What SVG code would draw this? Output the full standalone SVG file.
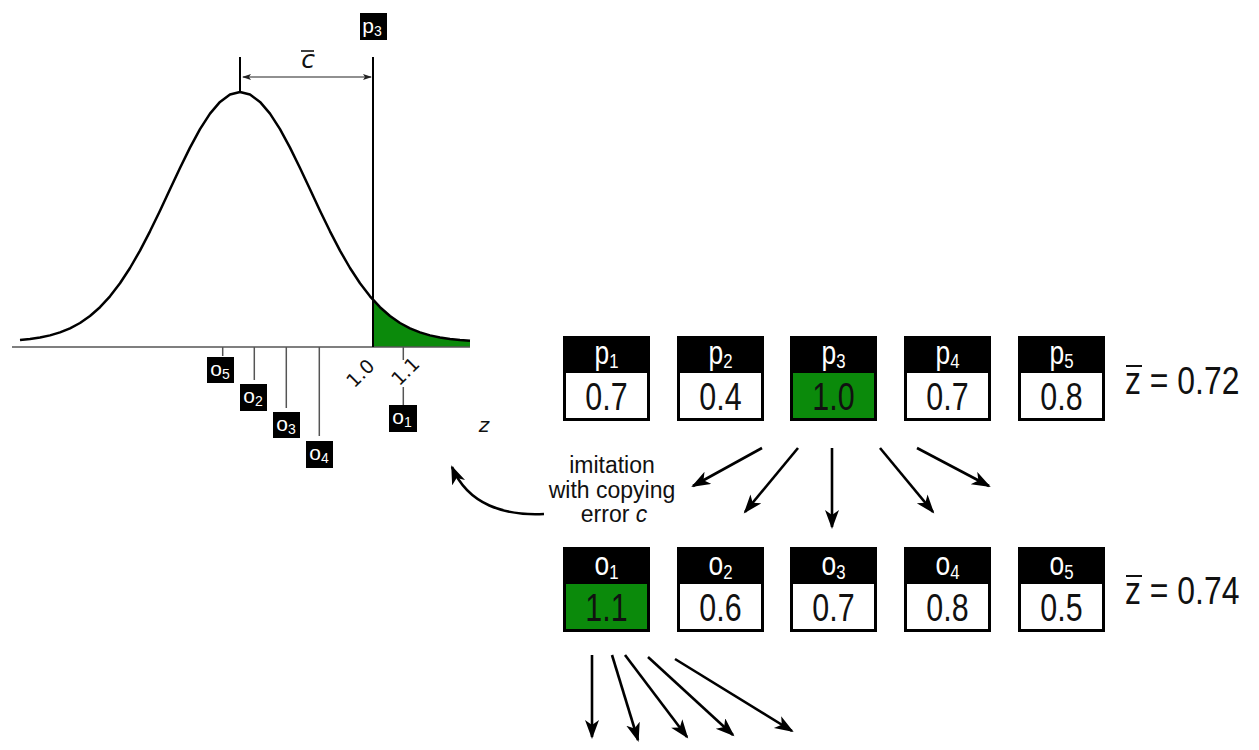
<svg xmlns="http://www.w3.org/2000/svg" width="1259" height="750" viewBox="0 0 1259 750">
<style>
.lab{font-family:"Liberation Sans",Arial,sans-serif;fill:#fff;text-anchor:middle}
.val{font-family:"Liberation Sans",Arial,sans-serif;fill:#111;text-anchor:middle;font-size:38px}
.hdr{font-size:33px}
.sub{font-size:21px}
.blk{fill:#000}
.wht{fill:#fff}
.grn{fill:#0b8a0b}
.arr{stroke:#000;stroke-width:2.6;fill:none;marker-end:url(#ah)}
.tick{stroke:#555;stroke-width:1.5}
.dv{font-family:"DejaVu Sans",sans-serif;fill:#111}
.mean{font-family:"Liberation Sans",Arial,sans-serif;fill:#111;font-size:38px}
</style>
<defs>
<marker id="ah" markerUnits="userSpaceOnUse" markerWidth="20" markerHeight="16" refX="17" refY="7" orient="auto">
<path d="M0,0 L19,7 L0,14 L5,7 z" fill="#000"/>
</marker>
<marker id="sm" markerUnits="userSpaceOnUse" markerWidth="10" markerHeight="8" refX="8" refY="3" orient="auto-start-reverse">
<path d="M0,0 L9,3 L0,6 L2,3 z" fill="#222"/>
</marker>
</defs>
<rect width="1259" height="750" fill="#fff"/>

<g id="chart">
<path class="grn" d="M373,299.8 L380,307.2 L390,316 L400,323 L410,328.3 L420,332.4 L430,335.4 L440,337.5 L450,339 L460,340.1 L470,340.8 L470,347 L373,347 Z"/>
<line x1="12" y1="347" x2="470" y2="347" stroke="#555" stroke-width="1.6"/>
<path d="M20,340.1 L30,339 L40,337.5 L50,335.4 L60,332.4 L70,328.3 L80,323 L90,316 L100,307.2 L110,296.3 L120,283.3 L130,268 L140,250.6 L150,231.3 L160,210.7 L170,189.3 L180,168 L190,147.6 L200,129.2 L210,113.6 L220,101.9 L230,94.5 L240,92 L250,94.5 L260,101.9 L270,113.6 L280,129.2 L290,147.6 L300,168 L310,189.3 L320,210.7 L330,231.3 L340,250.6 L350,268 L360,283.3 L370,296.3 L380,307.2 L390,316 L400,323 L410,328.3 L420,332.4 L430,335.4 L440,337.5 L450,339 L460,340.1 L470,340.8" fill="none" stroke="#000" stroke-width="2.5" stroke-linejoin="round"/>
<line x1="240" y1="57" x2="240" y2="92" stroke="#000" stroke-width="2"/>
<line x1="373" y1="57" x2="373" y2="347" stroke="#000" stroke-width="2"/>
<line x1="243" y1="77" x2="371" y2="77" stroke="#222" stroke-width="1.2" marker-start="url(#sm)" marker-end="url(#sm)"/>
<text class="dv" x="308" y="68" font-size="25" font-style="italic" text-anchor="middle">c</text>
<line x1="301" y1="51" x2="314" y2="51" stroke="#111" stroke-width="1.6"/>
<g id="lbl-p3top"><rect class="blk" x="360" y="13" width="27" height="27"/><text class="lab" x="372" y="33" font-size="21">p<tspan font-size="14" dy="3">3</tspan></text></g>
<line class="tick" x1="222.7" y1="347" x2="222.7" y2="356"/>
<line class="tick" x1="254.3" y1="347" x2="254.3" y2="380"/>
<line class="tick" x1="286.3" y1="347" x2="286.3" y2="408"/>
<line class="tick" x1="319.3" y1="347" x2="319.3" y2="436"/>
<line class="tick" x1="403.3" y1="347" x2="403.3" y2="360"/>
<line class="tick" x1="403.3" y1="387" x2="403.3" y2="405"/>
<g id="lbl-o5"><rect class="blk" x="207" y="357" width="27" height="26"/><text class="lab" x="220" y="376" font-size="21">o<tspan font-size="14" dy="3">5</tspan></text></g>
<g id="lbl-o2"><rect class="blk" x="240" y="384" width="27" height="27"/><text class="lab" x="253" y="403" font-size="21">o<tspan font-size="14" dy="3">2</tspan></text></g>
<g id="lbl-o3"><rect class="blk" x="273" y="412" width="27" height="26"/><text class="lab" x="286" y="431" font-size="21">o<tspan font-size="14" dy="3">3</tspan></text></g>
<g id="lbl-o4"><rect class="blk" x="306" y="441" width="27" height="27"/><text class="lab" x="319" y="460" font-size="21">o<tspan font-size="14" dy="3">4</tspan></text></g>
<g id="lbl-o1"><rect class="blk" x="389" y="405" width="28" height="27"/><text class="lab" x="402" y="424" font-size="21">o<tspan font-size="14" dy="3">1</tspan></text></g>
<text class="dv" font-size="19" text-anchor="middle" transform="translate(365,378) rotate(-45)">1.0</text>
<text class="dv" font-size="19" text-anchor="middle" transform="translate(410,376) rotate(-45)">1.1</text>
<text class="dv" x="484" y="432" font-size="20" font-style="italic" text-anchor="middle">z</text>
</g>

<g id="p1"><rect class="blk" x="563" y="336" width="87" height="85"/><rect class="wht" x="566" y="373" width="81" height="45"/><text class="lab hdr" transform="translate(606.5,364) scale(0.8,1)">p<tspan class="sub" dy="4">1</tspan></text><text class="val" transform="translate(606.5,410) scale(0.8,1)">0.7</text></g>
<g id="p2"><rect class="blk" x="677" y="336" width="87" height="85"/><rect class="wht" x="680" y="373" width="81" height="45"/><text class="lab hdr" transform="translate(720.5,364) scale(0.8,1)">p<tspan class="sub" dy="4">2</tspan></text><text class="val" transform="translate(720.5,410) scale(0.8,1)">0.4</text></g>
<g id="p3"><rect class="blk" x="790" y="336" width="87" height="85"/><rect class="grn" x="793" y="373" width="81" height="45"/><text class="lab hdr" transform="translate(833.5,364) scale(0.8,1)">p<tspan class="sub" dy="4">3</tspan></text><text class="val" transform="translate(833.5,410) scale(0.8,1)">1.0</text></g>
<g id="p4"><rect class="blk" x="904" y="336" width="87" height="85"/><rect class="wht" x="907" y="373" width="81" height="45"/><text class="lab hdr" transform="translate(947.5,364) scale(0.8,1)">p<tspan class="sub" dy="4">4</tspan></text><text class="val" transform="translate(947.5,410) scale(0.8,1)">0.7</text></g>
<g id="p5"><rect class="blk" x="1018" y="336" width="87" height="85"/><rect class="wht" x="1021" y="373" width="81" height="45"/><text class="lab hdr" transform="translate(1061.5,364) scale(0.8,1)">p<tspan class="sub" dy="4">5</tspan></text><text class="val" transform="translate(1061.5,410) scale(0.8,1)">0.8</text></g>
<g id="zbar-p"><text class="mean" transform="translate(1125,394) scale(0.84,1)">z = 0.72</text><line x1="1126" y1="366" x2="1142" y2="366" stroke="#111" stroke-width="2"/></g>

<g id="o1"><rect class="blk" x="563" y="547" width="87" height="85"/><rect class="grn" x="566" y="584" width="81" height="45"/><text class="lab hdr" transform="translate(606.5,575) scale(0.8,1)">o<tspan class="sub" dy="4">1</tspan></text><text class="val" transform="translate(606.5,621) scale(0.8,1)">1.1</text></g>
<g id="o2"><rect class="blk" x="677" y="547" width="87" height="85"/><rect class="wht" x="680" y="584" width="81" height="45"/><text class="lab hdr" transform="translate(720.5,575) scale(0.8,1)">o<tspan class="sub" dy="4">2</tspan></text><text class="val" transform="translate(720.5,621) scale(0.8,1)">0.6</text></g>
<g id="o3"><rect class="blk" x="790" y="547" width="87" height="85"/><rect class="wht" x="793" y="584" width="81" height="45"/><text class="lab hdr" transform="translate(833.5,575) scale(0.8,1)">o<tspan class="sub" dy="4">3</tspan></text><text class="val" transform="translate(833.5,621) scale(0.8,1)">0.7</text></g>
<g id="o4"><rect class="blk" x="904" y="547" width="87" height="85"/><rect class="wht" x="907" y="584" width="81" height="45"/><text class="lab hdr" transform="translate(947.5,575) scale(0.8,1)">o<tspan class="sub" dy="4">4</tspan></text><text class="val" transform="translate(947.5,621) scale(0.8,1)">0.8</text></g>
<g id="o5"><rect class="blk" x="1018" y="547" width="87" height="85"/><rect class="wht" x="1021" y="584" width="81" height="45"/><text class="lab hdr" transform="translate(1061.5,575) scale(0.8,1)">o<tspan class="sub" dy="4">5</tspan></text><text class="val" transform="translate(1061.5,621) scale(0.8,1)">0.5</text></g>
<g id="zbar-o"><text class="mean" transform="translate(1125,604) scale(0.84,1)">z = 0.74</text><line x1="1126" y1="576" x2="1142" y2="576" stroke="#111" stroke-width="2"/></g>

<g id="caption"><text font-family="'Liberation Sans',Arial,sans-serif" font-size="23" fill="#111" text-anchor="middle"><tspan x="612" y="473">imitation</tspan><tspan x="612" y="498">with copying</tspan><tspan x="614" y="522">error <tspan font-style="italic">c</tspan></tspan></text></g>

<g id="connectors">
<line class="arr" x1="762" y1="448" x2="693" y2="486"/>
<line class="arr" x1="798" y1="448" x2="745" y2="512"/>
<line class="arr" x1="832" y1="448" x2="832" y2="527"/>
<line class="arr" x1="880" y1="448" x2="933" y2="512"/>
<line class="arr" x1="917" y1="448" x2="989" y2="486"/>
<path class="arr" stroke-width="2" d="M544,514 C505,516 468,505 452,467"/>
<line class="arr" x1="592" y1="655" x2="592" y2="737"/>
<line class="arr" x1="612" y1="655" x2="638" y2="740"/>
<line class="arr" x1="625" y1="655" x2="687" y2="737"/>
<line class="arr" x1="648" y1="657" x2="733" y2="735"/>
<line class="arr" x1="675" y1="659" x2="792" y2="731"/>
</g>
</svg>
